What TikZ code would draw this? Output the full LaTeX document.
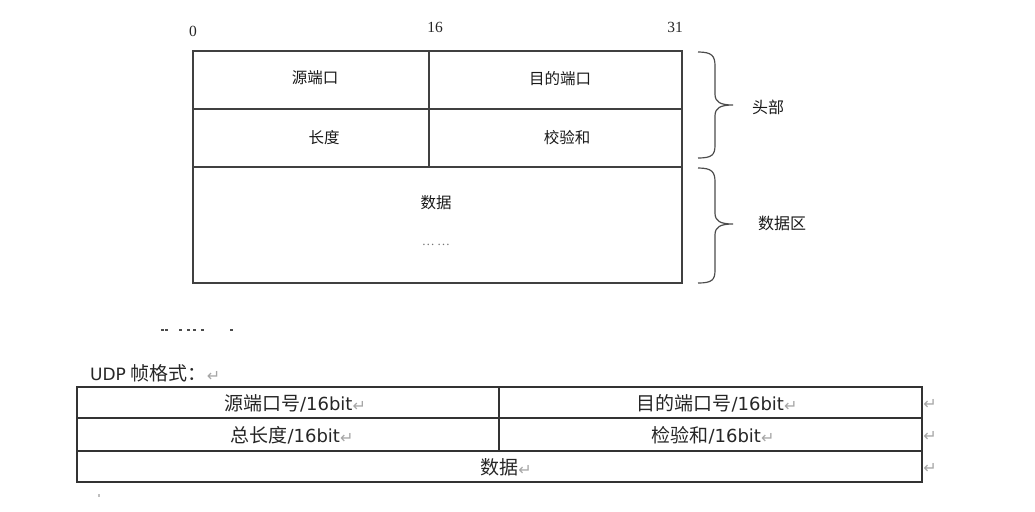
\documentclass[tikz,border=0pt]{standalone}
\usepackage{fontspec}
\setmainfont{Liberation Serif}
\newfontfamily\cjk{Noto Sans CJK SC}
\newfontfamily\dvs{DejaVu Sans}
\begin{document}
\begin{tikzpicture}[x=1pt,y=-1pt,
  frame/.style={draw=black!75, line width=1.3pt},
  cell/.style={draw=black!80, line width=1.2pt},
  toplbl/.style={font=\cjk\fontsize{15.5}{15.5}\selectfont, text=black!90, inner sep=0},
  sidelbl/.style={font=\cjk\fontsize{16}{16}\selectfont, text=black!90, inner sep=0},
  numlbl/.style={font=\fontsize{15.5}{15.5}\selectfont, text=black!85, inner sep=0},
  botlbl/.style={font=\cjk\fontsize{19}{19}\selectfont, text=black!85, inner sep=0},
  brc/.style={draw=black!70, line width=1.2pt},
  speck/.style={fill=black!70}
]
\useasboundingbox (0,0) rectangle (1035,511);
\newcommand{\retmark}{\raisebox{-1pt}{\dvs\fontsize{16}{16}\selectfont\color{black!35}↵}}
% top frame
\draw[frame] (193,51) rectangle (682,283);
\draw[frame] (193,109) -- (682,109);
\draw[frame] (193,167) -- (682,167);
\draw[frame] (429,51) -- (429,167);
% bit numbers
\node[numlbl] (b0) at (193,31) {0};
\node[numlbl] (b16) at (435,27) {16};
\node[numlbl] (b31) at (675,27) {31};
% field labels
\node[toplbl] (src) at (315,78) {源端口};
\node[toplbl] (dst) at (560,79) {目的端口};
\node[toplbl] (len) at (324,138) {长度};
\node[toplbl] (chk) at (567,138) {校验和};
\node[toplbl] (data) at (436,203) {数据};
\node[font=\fontsize{13}{13}\selectfont, text=black!55, inner sep=0] (dots) at (436,245) {…\,…};
% braces
\draw[brc] (698,52) .. controls (712,52) and (715,56) .. (715,66) -- (715,94)
  .. controls (715,102) and (720,105) .. (733,105)
  .. controls (720,105) and (715,108) .. (715,116) -- (715,145)
  .. controls (715,155) and (712,158) .. (698,158);
\draw[brc] (698,168) .. controls (712,168) and (715,172) .. (715,182) -- (715,213)
  .. controls (715,221) and (720,224) .. (733,224)
  .. controls (720,224) and (715,227) .. (715,235) -- (715,270)
  .. controls (715,280) and (712,283) .. (698,283);
\node[sidelbl] (head) at (768,107) {头部};
\node[sidelbl] (area) at (782,223) {数据区};
% specks
\foreach \px in {162,166,180,188,194,202,231}
  \fill[speck] (\px-1,329) rectangle (\px+1.5,331);
\fill[black!25] (98,494) rectangle (99.5,497);
% bottom table
\node[anchor=west, inner sep=0, text=black!85] (title) at (90,373)
  {{\dvs\fontsize{17}{17}\selectfont UDP}\hspace{5pt}{\cjk\fontsize{19}{19}\selectfont 帧格式：}\retmark};
\draw[cell] (77,387) rectangle (922,482);
\draw[cell] (77,418) -- (922,418);
\draw[cell] (77,451) -- (922,451);
\draw[cell] (499,387) -- (499,451);
\node[botlbl] (bsrc) at (295,403) {源端口号{\dvs\fontsize{18}{18}\selectfont /16bit}\retmark};
\node[botlbl] (bdst) at (717,403) {目的端口号{\dvs\fontsize{18}{18}\selectfont /16bit}\retmark};
\node[botlbl] (blen) at (292,435) {总长度{\dvs\fontsize{18}{18}\selectfont /16bit}\retmark};
\node[botlbl] (bchk) at (713,435) {检验和{\dvs\fontsize{18}{18}\selectfont /16bit}\retmark};
\node[botlbl] (bdata) at (506,467) {数据\retmark};
\node[inner sep=0] (r1) at (930,404) {\retmark};
\node[inner sep=0] (r2) at (930,436) {\retmark};
\node[inner sep=0] (r3) at (930,468) {\retmark};
\end{tikzpicture}
\end{document}
